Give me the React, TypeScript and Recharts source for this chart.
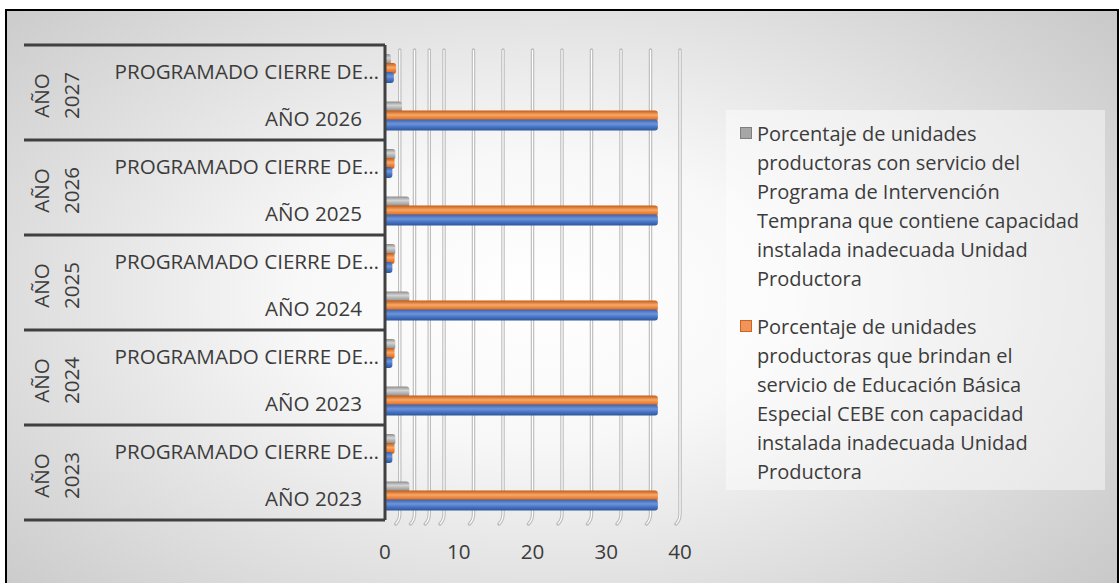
import React from "react";
import { BarChart, Bar, XAxis, YAxis, CartesianGrid, Legend } from "recharts";

const categories = [
  "PROGRAMADO CIERRE DE…",
  "AÑO 2026",
  "PROGRAMADO CIERRE DE…",
  "AÑO 2025",
  "PROGRAMADO CIERRE DE…",
  "AÑO 2024",
  "PROGRAMADO CIERRE DE…",
  "AÑO 2023",
  "PROGRAMADO CIERRE DE…",
  "AÑO 2023",
];
const groupLabels = [
  ["AÑO", "2027"],
  ["AÑO", "2026"],
  ["AÑO", "2025"],
  ["AÑO", "2024"],
  ["AÑO", "2023"],
];
const intervencion = [0.8, 2.3, 1.4, 3.3, 1.4, 3.3, 1.4, 3.3, 1.4, 3.3];
const cebe = [1.5, 37, 1.3, 37, 1.3, 37, 1.3, 37, 1.3, 37];
const serie3 = [1.2, 37, 1.0, 37, 1.0, 37, 1.0, 37, 1.0, 37];
const xTicks = [0, 10, 20, 30, 40];
const gridTicks = [2, 4, 6, 8, 10, 12, 14, 16, 18, 20, 22, 24, 26, 28, 30, 32, 34, 36, 38, 40];

const nameIntervencion =
  "Porcentaje de unidades productoras con servicio del Programa de Intervención Temprana que contiene capacidad instalada inadecuada Unidad Productora";
const nameCebe =
  "Porcentaje de unidades productoras que brindan el servicio de Educación Básica Especial CEBE con capacidad instalada inadecuada Unidad Productora";
const nameSerie3 = "Serie 3";

const data = categories.map((c, i) => ({
  idx: i,
  label: c,
  intervencion: intervencion[i],
  cebe: cebe[i],
  serie3: serie3[i],
}));

const FONT = "'Open Sans', sans-serif";
const TEXT = "#3c3c3c";
const W = 1120;
const H = 583;
const MARGIN = { top: 45, right: 440, bottom: 23, left: 25 };
const X_AXIS_H = 40;
const PLOT_H = H - MARGIN.top - MARGIN.bottom - X_AXIS_H;
const rowH = PLOT_H / categories.length;

const swatch: Record<string, { fill: string; border: string }> = {
  intervencion: { fill: "#a6a6a6", border: "#7f7f7f" },
  cebe: { fill: "#f0955a", border: "#d0631f" },
};

function CategoryTick(props: any) {
  const { x, y, index } = props;
  const label = categories[index];
  const truncated = label.endsWith("…");
  const isTop = index % 2 === 0;
  const g = groupLabels[Math.floor(index / 2)];
  const gy = y + rowH / 2 + 3;
  return (
    <g>
      <text
        x={truncated ? x - 6 : x - 23}
        y={y}
        dy={10}
        textAnchor="end"
        fontSize={20.6}
        fontFamily={FONT}
        fill={TEXT}
      >
        {label}
      </text>
      {isTop && (
        <line x1={x - 361} x2={x} y1={y - rowH / 2} y2={y - rowH / 2} stroke="#404040" strokeWidth={3} />
      )}
      {isTop &&
        g.map((t, k) => (
          <text
            key={k}
            x={x - 344 + k * 30}
            y={gy}
            transform={`rotate(-90, ${x - 344 + k * 30}, ${gy})`}
            textAnchor="middle"
            dominantBaseline="central"
            fontSize={20.6}
            fontFamily={FONT}
            fill={TEXT}
          >
            {t}
          </text>
        ))}
      {index === categories.length - 1 && (
        <line x1={x - 361} x2={x} y1={y + rowH / 2} y2={y + rowH / 2} stroke="#404040" strokeWidth={3} />
      )}
    </g>
  );
}

function ValueTick(props: any) {
  const { x, y, payload } = props;
  return (
    <text x={x} y={y} dy={39} textAnchor="middle" fontSize={20.6} fontFamily={FONT} fill={TEXT}>
      {payload.value}
    </text>
  );
}

function GridLine(props: any) {
  const { x1, y1, y2 } = props;
  const top = Math.min(y1, y2) + 5;
  const bot = Math.max(y1, y2);
  const d = `M${x1},${top} L${x1},${bot - 6} Q${x1},${bot} ${x1 - 4},${bot + 4}`;
  return (
    <g>
      <path d={d} fill="none" stroke="#bdbdbd" strokeWidth={3.5} strokeLinecap="round" />
      <path d={d} fill="none" stroke="#ffffff" strokeWidth={1.2} />
    </g>
  );
}

function LegendBox(props: any) {
  const items = (props.payload ?? []).filter(
    (p: any) => p.type !== "none" && swatch[p.dataKey]
  );
  return (
    <div
      style={{
        width: 379,
        height: 380,
        background: "rgba(255,255,255,0.45)",
        padding: "9px 0 0 14px",
        boxSizing: "border-box",
        fontFamily: FONT,
        fontSize: 20,
        lineHeight: "29px",
        color: TEXT,
      }}
    >
      {items.map((p: any, i: number) => (
        <div key={i} style={{ display: "flex", alignItems: "flex-start", marginBottom: 19 }}>
          <span
            style={{
              width: 12,
              height: 12,
              marginTop: 8,
              marginRight: 5,
              flex: "none",
              boxSizing: "border-box",
              background: swatch[p.dataKey].fill,
              border: `1px solid ${swatch[p.dataKey].border}`,
            }}
          />
          <span style={{ width: 330 }}>{p.value}</span>
        </div>
      ))}
    </div>
  );
}

export default function App() {
  return (
    <div
      style={{
        position: "absolute",
        left: 0,
        top: 0,
        width: W,
        height: H,
        background: "#ffffff",
        overflow: "hidden",
      }}
    >
      <div
        style={{
          position: "absolute",
          left: 5,
          top: 9,
          width: 1114,
          height: 600,
          boxSizing: "border-box",
          border: "2px solid #000",
          background:
            "radial-gradient(ellipse 72% 80% at 48% 48%, #ffffff 0%, #f8f8f8 30%, #c4c4c4 100%)",
        }}
      />
      <div style={{ position: "absolute", left: 0, top: 0 }}>
        <BarChart
          width={W}
          height={H}
          data={data}
          layout="vertical"
          margin={MARGIN}
          barSize={11}
          barGap={-2}
        >
          <defs>
            <linearGradient id="gGray" x1="0" y1="0" x2="0" y2="1">
              <stop offset="0%" stopColor="#8c8c8c" />
              <stop offset="35%" stopColor="#d4d4d4" />
              <stop offset="70%" stopColor="#a5a5a5" />
              <stop offset="100%" stopColor="#7f7f7f" />
            </linearGradient>
            <linearGradient id="gOrange" x1="0" y1="0" x2="0" y2="1">
              <stop offset="0%" stopColor="#c55a11" />
              <stop offset="40%" stopColor="#f6a868" />
              <stop offset="70%" stopColor="#ed7d31" />
              <stop offset="100%" stopColor="#c55a11" />
            </linearGradient>
            <linearGradient id="gBlue" x1="0" y1="0" x2="0" y2="1">
              <stop offset="0%" stopColor="#3a64b0" />
              <stop offset="40%" stopColor="#6f94d8" />
              <stop offset="70%" stopColor="#4472c4" />
              <stop offset="100%" stopColor="#2f5597" />
            </linearGradient>
          </defs>
          <CartesianGrid
            horizontal={false}
            verticalValues={gridTicks}
            vertical={(p: any) => <GridLine key={p.key} {...p} />}
          />
          <XAxis
            type="number"
            domain={[0, 40]}
            ticks={xTicks}
            axisLine={false}
            tickLine={false}
            tickSize={0}
            tickMargin={0}
            height={X_AXIS_H}
            tick={<ValueTick />}
          />
          <YAxis
            type="category"
            dataKey="idx"
            width={360}
            axisLine={{ stroke: "#404040", strokeWidth: 3 }}
            tickLine={false}
            tickSize={0}
            tickMargin={0}
            interval={0}
            tick={<CategoryTick />}
          />
          <Legend
            layout="vertical"
            align="center"
            verticalAlign="middle"
            wrapperStyle={{ left: 726, top: 110, width: 379, height: 380 }}
            content={<LegendBox />}
          />
          <Bar
            dataKey="intervencion"
            name={nameIntervencion}
            fill="url(#gGray)"
            radius={[0, 3, 3, 0]}
            isAnimationActive={false}
          />
          <Bar
            dataKey="cebe"
            name={nameCebe}
            fill="url(#gOrange)"
            radius={[0, 3, 3, 0]}
            isAnimationActive={false}
          />
          <Bar
            dataKey="serie3"
            name={nameSerie3}
            fill="url(#gBlue)"
            radius={[0, 3, 3, 0]}
            legendType="none"
            isAnimationActive={false}
          />
        </BarChart>
      </div>
    </div>
  );
}
